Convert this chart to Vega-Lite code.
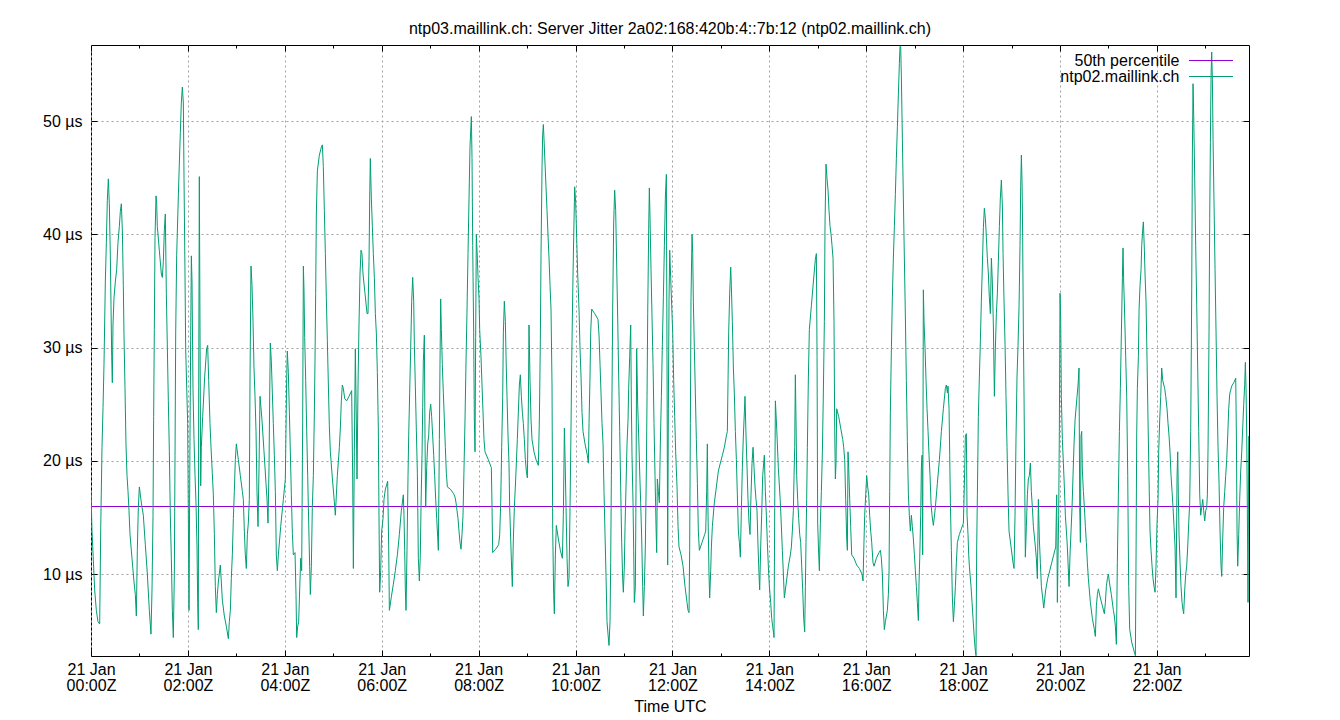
{
"$schema": "https://vega.github.io/schema/vega-lite/v6.json",
"width": 1158, "height": 611,
"autosize": "none",
"padding": {"left": 91, "top": 45, "right": 91, "bottom": 64},
"background": "white",
"title": {"text": "ntp03.maillink.ch: Server Jitter 2a02:168:420b:4::7b:12 (ntp02.maillink.ch)", "font": "Liberation Sans", "fontSize": 16, "fontWeight": "normal", "color": "black", "anchor": "middle", "offset": 8},
"config": {"view": {"stroke": "black", "strokeWidth": 1}, "font": "Liberation Sans"},
"datasets": {
"p50": [{"v": 15.97}],
"jitter": [
{"h":0.000,"v":17.3},{"h":0.021,"v":13.8},{"h":0.076,"v":8.6},{"h":0.110,"v":6.8},{"h":0.144,"v":5.8},{"h":0.179,"v":5.6},{"h":0.200,"v":13.8},{"h":0.227,"v":21.2},{"h":0.248,"v":24.7},{"h":0.268,"v":28.5},{"h":0.296,"v":35.8},{"h":0.317,"v":39.3},{"h":0.337,"v":43.0},{"h":0.358,"v":44.9},{"h":0.378,"v":42.7},{"h":0.399,"v":38.1},{"h":0.413,"v":33.7},{"h":0.427,"v":29.2},{"h":0.440,"v":26.9},{"h":0.454,"v":32.0},{"h":0.475,"v":34.4},{"h":0.502,"v":35.8},{"h":0.530,"v":36.9},{"h":0.557,"v":39.3},{"h":0.585,"v":40.7},{"h":0.605,"v":42.0},{"h":0.626,"v":42.7},{"h":0.647,"v":40.4},{"h":0.667,"v":35.5},{"h":0.681,"v":31.1},{"h":0.702,"v":26.4},{"h":0.722,"v":21.5},{"h":0.743,"v":18.7},{"h":0.764,"v":17.3},{"h":0.784,"v":15.6},{"h":0.805,"v":13.5},{"h":0.846,"v":11.4},{"h":0.888,"v":9.3},{"h":0.915,"v":8.2},{"h":0.936,"v":6.3},{"h":0.956,"v":12.1},{"h":0.977,"v":15.9},{"h":0.998,"v":17.7},{"h":1.039,"v":16.3},{"h":1.080,"v":15.2},{"h":1.121,"v":12.6},{"h":1.163,"v":10.0},{"h":1.204,"v":6.8},{"h":1.238,"v":4.7},{"h":1.259,"v":8.6},{"h":1.280,"v":15.2},{"h":1.293,"v":23.9},{"h":1.307,"v":31.6},{"h":1.321,"v":39.7},{"h":1.342,"v":43.4},{"h":1.355,"v":42.8},{"h":1.369,"v":40.7},{"h":1.410,"v":38.6},{"h":1.452,"v":36.5},{"h":1.472,"v":36.2},{"h":1.493,"v":37.6},{"h":1.514,"v":40.4},{"h":1.534,"v":41.8},{"h":1.555,"v":34.8},{"h":1.576,"v":29.9},{"h":1.596,"v":25.3},{"h":1.617,"v":20.8},{"h":1.637,"v":15.2},{"h":1.658,"v":11.4},{"h":1.679,"v":6.8},{"h":1.699,"v":4.4},{"h":1.720,"v":10.0},{"h":1.734,"v":20.5},{"h":1.748,"v":31.3},{"h":1.768,"v":38.1},{"h":1.803,"v":43.4},{"h":1.823,"v":46.2},{"h":1.844,"v":49.0},{"h":1.864,"v":51.6},{"h":1.885,"v":53.0},{"h":1.906,"v":51.6},{"h":1.920,"v":44.9},{"h":1.940,"v":36.5},{"h":1.954,"v":29.9},
{"h":1.995,"v":23.3},{"h":2.009,"v":15.2},{"h":2.023,"v":6.8},{"h":2.043,"v":22.2},{"h":2.057,"v":30.6},{"h":2.071,"v":38.1},{"h":2.085,"v":35.8},{"h":2.105,"v":26.4},{"h":2.126,"v":21.9},{"h":2.147,"v":18.7},{"h":2.167,"v":16.3},{"h":2.188,"v":12.4},{"h":2.202,"v":7.5},{"h":2.215,"v":5.1},{"h":2.222,"v":25.0},{"h":2.236,"v":45.1},{"h":2.250,"v":31.3},{"h":2.264,"v":17.8},{"h":2.277,"v":21.2},{"h":2.305,"v":23.9},{"h":2.346,"v":27.4},{"h":2.387,"v":29.9},{"h":2.408,"v":30.2},{"h":2.429,"v":27.1},{"h":2.456,"v":23.3},{"h":2.477,"v":21.2},{"h":2.504,"v":18.9},{"h":2.525,"v":17.0},{"h":2.546,"v":13.6},{"h":2.566,"v":8.9},{"h":2.587,"v":6.6},{"h":2.608,"v":8.2},{"h":2.628,"v":9.3},{"h":2.669,"v":10.8},{"h":2.690,"v":9.3},{"h":2.711,"v":7.7},{"h":2.752,"v":6.3},{"h":2.793,"v":5.4},{"h":2.835,"v":4.3},{"h":2.855,"v":5.8},{"h":2.876,"v":6.8},{"h":2.896,"v":9.6},{"h":2.917,"v":11.7},{"h":2.938,"v":14.9},{"h":2.958,"v":17.3},{"h":2.979,"v":20.1},{"h":3.000,"v":21.5},{"h":3.041,"v":20.1},{"h":3.082,"v":18.7},{"h":3.124,"v":17.3},{"h":3.144,"v":16.6},{"h":3.165,"v":13.8},{"h":3.185,"v":11.7},{"h":3.206,"v":10.5},{"h":3.227,"v":13.5},{"h":3.247,"v":14.5},{"h":3.268,"v":16.6},{"h":3.282,"v":27.4},{"h":3.302,"v":37.2},{"h":3.323,"v":35.5},{"h":3.344,"v":32.3},{"h":3.364,"v":28.2},{"h":3.385,"v":25.7},{"h":3.406,"v":22.6},{"h":3.426,"v":17.3},{"h":3.447,"v":14.2},{"h":3.468,"v":19.4},{"h":3.488,"v":25.7},{"h":3.529,"v":23.6},{"h":3.571,"v":20.8},{"h":3.612,"v":18.0},{"h":3.633,"v":16.6},{"h":3.653,"v":14.5},{"h":3.674,"v":19.4},{"h":3.688,"v":25.7},{"h":3.701,"v":30.4},{"h":3.722,"v":28.8},{"h":3.743,"v":26.0},{"h":3.763,"v":23.3},{"h":3.784,"v":20.5},{"h":3.805,"v":17.3},{"h":3.825,"v":11.7},{"h":3.846,"v":10.3},{"h":3.867,"v":11.7},{"h":3.915,"v":14.2},{"h":3.970,"v":16.6},
{"h":4.011,"v":18.4},{"h":4.025,"v":22.9},{"h":4.039,"v":27.4},{"h":4.052,"v":29.7},{"h":4.073,"v":27.8},{"h":4.094,"v":24.3},{"h":4.114,"v":20.8},{"h":4.135,"v":17.0},{"h":4.156,"v":13.6},{"h":4.176,"v":11.7},{"h":4.211,"v":11.9},{"h":4.231,"v":8.2},{"h":4.245,"v":4.4},{"h":4.266,"v":5.4},{"h":4.286,"v":5.8},{"h":4.307,"v":8.6},{"h":4.328,"v":11.4},{"h":4.348,"v":10.3},{"h":4.369,"v":23.6},{"h":4.383,"v":37.2},{"h":4.396,"v":35.1},{"h":4.410,"v":30.9},{"h":4.431,"v":27.1},{"h":4.451,"v":22.9},{"h":4.472,"v":18.7},{"h":4.493,"v":14.5},{"h":4.513,"v":10.7},{"h":4.527,"v":8.2},{"h":4.548,"v":10.7},{"h":4.568,"v":15.9},{"h":4.589,"v":18.7},{"h":4.610,"v":24.3},{"h":4.623,"v":28.8},{"h":4.637,"v":34.8},{"h":4.651,"v":41.8},{"h":4.672,"v":45.6},{"h":4.713,"v":47.0},{"h":4.754,"v":47.7},{"h":4.775,"v":47.9},{"h":4.795,"v":46.0},{"h":4.816,"v":42.1},{"h":4.837,"v":38.3},{"h":4.857,"v":34.4},{"h":4.878,"v":30.6},{"h":4.899,"v":26.7},{"h":4.919,"v":23.1},{"h":4.940,"v":20.8},{"h":4.981,"v":18.5},{"h":5.022,"v":16.4},{"h":5.043,"v":15.2},{"h":5.064,"v":17.0},{"h":5.084,"v":18.7},{"h":5.126,"v":21.2},{"h":5.146,"v":22.9},{"h":5.167,"v":25.3},{"h":5.187,"v":26.7},{"h":5.208,"v":26.4},{"h":5.236,"v":25.5},{"h":5.277,"v":25.3},{"h":5.325,"v":25.7},{"h":5.380,"v":26.2},{"h":5.401,"v":18.4},{"h":5.415,"v":10.5},{"h":5.435,"v":20.8},{"h":5.456,"v":29.9},{"h":5.476,"v":23.6},{"h":5.490,"v":18.4},{"h":5.511,"v":26.7},{"h":5.531,"v":32.0},{"h":5.552,"v":36.5},{"h":5.573,"v":38.6},{"h":5.593,"v":38.3},{"h":5.614,"v":36.5},{"h":5.655,"v":34.8},{"h":5.697,"v":33.0},{"h":5.717,"v":33.0},{"h":5.738,"v":37.6},{"h":5.752,"v":43.2},{"h":5.765,"v":46.7},{"h":5.786,"v":43.2},{"h":5.807,"v":40.7},{"h":5.827,"v":38.3},{"h":5.848,"v":36.2},{"h":5.869,"v":33.0},{"h":5.889,"v":31.3},{"h":5.910,"v":27.8},{"h":5.930,"v":22.9},{"h":5.944,"v":15.2},{"h":5.958,"v":8.4},{"h":5.979,"v":10.3},{"h":5.999,"v":13.8},
{"h":6.027,"v":14.9},{"h":6.047,"v":16.6},{"h":6.075,"v":17.5},{"h":6.123,"v":18.2},{"h":6.144,"v":12.4},{"h":6.158,"v":6.8},{"h":6.199,"v":8.0},{"h":6.240,"v":9.1},{"h":6.281,"v":10.3},{"h":6.323,"v":11.7},{"h":6.364,"v":13.5},{"h":6.405,"v":15.6},{"h":6.446,"v":17.0},{"h":6.460,"v":15.2},{"h":6.474,"v":12.1},{"h":6.488,"v":8.6},{"h":6.502,"v":6.8},{"h":6.522,"v":12.1},{"h":6.543,"v":18.7},{"h":6.557,"v":22.2},{"h":6.577,"v":26.0},{"h":6.598,"v":29.9},{"h":6.619,"v":34.1},{"h":6.639,"v":36.2},{"h":6.660,"v":34.1},{"h":6.674,"v":30.2},{"h":6.694,"v":26.6},{"h":6.715,"v":22.7},{"h":6.736,"v":18.9},{"h":6.756,"v":11.4},{"h":6.777,"v":9.4},{"h":6.797,"v":11.7},{"h":6.811,"v":15.9},{"h":6.832,"v":20.5},{"h":6.846,"v":24.7},{"h":6.859,"v":28.8},{"h":6.880,"v":31.1},{"h":6.894,"v":21.9},{"h":6.907,"v":15.9},{"h":6.928,"v":19.4},{"h":6.949,"v":21.5},{"h":6.969,"v":22.2},{"h":6.990,"v":24.3},{"h":7.011,"v":25.0},{"h":7.031,"v":23.9},{"h":7.052,"v":22.2},{"h":7.073,"v":20.5},{"h":7.093,"v":18.7},{"h":7.114,"v":16.6},{"h":7.135,"v":14.9},{"h":7.155,"v":13.3},{"h":7.169,"v":12.1},{"h":7.190,"v":21.9},{"h":7.203,"v":28.5},{"h":7.217,"v":34.3},{"h":7.231,"v":31.6},{"h":7.251,"v":28.5},{"h":7.272,"v":26.0},{"h":7.293,"v":23.6},{"h":7.313,"v":21.2},{"h":7.334,"v":18.9},{"h":7.355,"v":17.7},{"h":7.417,"v":17.5},{"h":7.485,"v":17.1},{"h":7.513,"v":16.8},{"h":7.534,"v":16.3},{"h":7.554,"v":15.6},{"h":7.575,"v":14.9},{"h":7.595,"v":13.8},{"h":7.616,"v":12.8},{"h":7.637,"v":12.2},{"h":7.657,"v":13.5},{"h":7.678,"v":15.2},{"h":7.699,"v":19.4},{"h":7.719,"v":23.6},{"h":7.740,"v":28.8},{"h":7.761,"v":33.4},{"h":7.781,"v":38.3},{"h":7.802,"v":43.2},{"h":7.822,"v":47.7},{"h":7.850,"v":50.4},{"h":7.864,"v":46.7},{"h":7.878,"v":39.0},{"h":7.898,"v":31.3},{"h":7.912,"v":23.6},{"h":7.926,"v":20.8},{"h":7.939,"v":30.9},{"h":7.953,"v":40.0},{"h":7.974,"v":37.9},{"h":7.988,"v":36.2},{"h":8.008,"v":34.4},{"h":8.022,"v":31.6},
{"h":8.049,"v":29.2},{"h":8.070,"v":26.7},{"h":8.091,"v":24.3},{"h":8.111,"v":21.9},{"h":8.132,"v":20.8},{"h":8.201,"v":20.1},{"h":8.263,"v":19.4},{"h":8.277,"v":15.9},{"h":8.290,"v":11.9},{"h":8.352,"v":12.2},{"h":8.414,"v":12.6},{"h":8.435,"v":13.5},{"h":8.456,"v":16.3},{"h":8.476,"v":21.2},{"h":8.497,"v":25.7},{"h":8.511,"v":31.3},{"h":8.531,"v":34.1},{"h":8.552,"v":32.3},{"h":8.566,"v":29.2},{"h":8.586,"v":25.7},{"h":8.607,"v":22.2},{"h":8.627,"v":19.8},{"h":8.641,"v":15.9},{"h":8.662,"v":13.1},{"h":8.683,"v":10.3},{"h":8.696,"v":8.9},{"h":8.717,"v":13.1},{"h":8.738,"v":15.9},{"h":8.758,"v":17.7},{"h":8.779,"v":19.8},{"h":8.799,"v":21.9},{"h":8.820,"v":24.3},{"h":8.841,"v":26.7},{"h":8.861,"v":27.6},{"h":8.882,"v":25.7},{"h":8.903,"v":24.3},{"h":8.923,"v":23.3},{"h":8.944,"v":21.9},{"h":8.965,"v":20.1},{"h":8.985,"v":19.1},{"h":9.006,"v":18.5},{"h":9.027,"v":25.0},{"h":9.040,"v":32.0},{"h":9.061,"v":27.1},{"h":9.082,"v":23.6},{"h":9.102,"v":21.9},{"h":9.143,"v":20.8},{"h":9.185,"v":20.1},{"h":9.233,"v":19.6},{"h":9.254,"v":23.6},{"h":9.274,"v":30.6},{"h":9.288,"v":38.3},{"h":9.309,"v":46.0},{"h":9.322,"v":48.8},{"h":9.336,"v":49.7},{"h":9.350,"v":48.4},{"h":9.370,"v":46.3},{"h":9.391,"v":44.2},{"h":9.412,"v":42.1},{"h":9.432,"v":40.0},{"h":9.453,"v":37.9},{"h":9.474,"v":35.5},{"h":9.494,"v":33.4},{"h":9.515,"v":26.7},{"h":9.529,"v":14.0},{"h":9.549,"v":8.2},{"h":9.563,"v":6.5},{"h":9.584,"v":11.7},{"h":9.604,"v":14.3},{"h":9.646,"v":13.1},{"h":9.687,"v":12.1},{"h":9.728,"v":11.4},{"h":9.749,"v":15.2},{"h":9.770,"v":22.9},{"h":9.783,"v":20.5},{"h":9.804,"v":15.9},{"h":9.825,"v":11.4},{"h":9.845,"v":8.9},{"h":9.866,"v":9.6},{"h":9.887,"v":15.9},{"h":9.907,"v":22.9},{"h":9.921,"v":28.5},{"h":9.942,"v":34.8},{"h":9.962,"v":39.7},{"h":9.983,"v":44.2},{"h":10.003,"v":42.8},{"h":10.024,"v":39.7},{"h":10.045,"v":36.5},
{"h":10.072,"v":33.4},{"h":10.093,"v":29.9},{"h":10.114,"v":27.4},{"h":10.134,"v":24.3},{"h":10.155,"v":22.6},{"h":10.196,"v":21.5},{"h":10.244,"v":20.5},{"h":10.265,"v":19.8},{"h":10.279,"v":23.3},{"h":10.299,"v":27.4},{"h":10.313,"v":31.3},{"h":10.334,"v":33.4},{"h":10.396,"v":33.0},{"h":10.464,"v":32.5},{"h":10.485,"v":31.1},{"h":10.506,"v":28.5},{"h":10.526,"v":26.0},{"h":10.547,"v":23.3},{"h":10.568,"v":21.5},{"h":10.588,"v":17.3},{"h":10.609,"v":13.5},{"h":10.630,"v":9.8},{"h":10.650,"v":5.8},{"h":10.671,"v":4.7},{"h":10.691,"v":3.7},{"h":10.712,"v":5.8},{"h":10.726,"v":11.0},{"h":10.740,"v":18.7},{"h":10.753,"v":26.0},{"h":10.767,"v":33.4},{"h":10.788,"v":41.1},{"h":10.808,"v":43.9},{"h":10.829,"v":42.1},{"h":10.850,"v":37.2},{"h":10.870,"v":32.7},{"h":10.891,"v":27.4},{"h":10.912,"v":22.6},{"h":10.932,"v":17.7},{"h":10.953,"v":12.8},{"h":10.973,"v":9.6},{"h":10.987,"v":8.4},{"h":11.008,"v":10.7},{"h":11.022,"v":14.2},{"h":11.042,"v":17.7},{"h":11.063,"v":21.5},{"h":11.084,"v":23.6},{"h":11.097,"v":26.4},{"h":11.118,"v":29.2},{"h":11.139,"v":32.0},{"h":11.152,"v":25.2},{"h":11.166,"v":20.5},{"h":11.187,"v":16.3},{"h":11.201,"v":12.1},{"h":11.214,"v":7.5},{"h":11.235,"v":8.9},{"h":11.249,"v":18.0},{"h":11.262,"v":29.9},{"h":11.283,"v":25.0},{"h":11.304,"v":22.2},{"h":11.324,"v":19.1},{"h":11.345,"v":16.3},{"h":11.366,"v":13.1},{"h":11.386,"v":8.9},{"h":11.400,"v":6.3},{"h":11.421,"v":8.9},{"h":11.441,"v":12.4},{"h":11.462,"v":19.1},{"h":11.476,"v":25.7},{"h":11.490,"v":33.0},{"h":11.510,"v":40.4},{"h":11.524,"v":44.1},{"h":11.538,"v":41.4},{"h":11.558,"v":36.9},{"h":11.579,"v":32.7},{"h":11.600,"v":28.5},{"h":11.620,"v":23.3},{"h":11.641,"v":18.7},{"h":11.662,"v":14.2},{"h":11.675,"v":11.9},{"h":11.689,"v":18.4},{"h":11.710,"v":17.3},{"h":11.730,"v":16.3},{"h":11.751,"v":21.5},{"h":11.772,"v":25.7},{"h":11.792,"v":30.3},{"h":11.813,"v":34.4},{"h":11.834,"v":39.0},{"h":11.854,"v":43.2},{"h":11.875,"v":45.3},{"h":11.889,"v":28.2},{"h":11.902,"v":10.8},{"h":11.916,"v":24.6},{"h":11.930,"v":34.1},{"h":11.944,"v":38.6},{"h":11.964,"v":36.2},{"h":11.985,"v":33.7},{"h":12.006,"v":31.3},{"h":12.026,"v":27.1},{"h":12.047,"v":23.9},{"h":12.067,"v":20.8},
{"h":12.095,"v":17.7},{"h":12.116,"v":14.2},{"h":12.136,"v":12.4},{"h":12.178,"v":11.7},{"h":12.219,"v":10.7},{"h":12.260,"v":8.9},{"h":12.301,"v":7.5},{"h":12.322,"v":6.8},{"h":12.343,"v":6.6},{"h":12.356,"v":12.1},{"h":12.370,"v":23.3},{"h":12.384,"v":34.4},{"h":12.405,"v":40.0},{"h":12.419,"v":38.3},{"h":12.432,"v":34.1},{"h":12.453,"v":29.9},{"h":12.473,"v":26.0},{"h":12.494,"v":21.9},{"h":12.515,"v":18.0},{"h":12.535,"v":13.8},{"h":12.556,"v":12.1},{"h":12.611,"v":12.8},{"h":12.666,"v":13.5},{"h":12.687,"v":13.8},{"h":12.707,"v":17.3},{"h":12.721,"v":21.5},{"h":12.735,"v":15.2},{"h":12.755,"v":10.0},{"h":12.769,"v":7.9},{"h":12.790,"v":10.3},{"h":12.804,"v":12.4},{"h":12.824,"v":14.2},{"h":12.865,"v":16.3},{"h":12.907,"v":17.7},{"h":12.948,"v":19.1},{"h":12.989,"v":19.8},{"h":13.031,"v":20.5},{"h":13.072,"v":21.2},{"h":13.113,"v":22.2},{"h":13.134,"v":22.6},{"h":13.148,"v":27.1},{"h":13.161,"v":31.3},{"h":13.182,"v":34.8},{"h":13.203,"v":37.1},{"h":13.216,"v":35.5},{"h":13.237,"v":32.3},{"h":13.258,"v":28.2},{"h":13.278,"v":25.9},{"h":13.299,"v":22.6},{"h":13.320,"v":20.1},{"h":13.340,"v":17.0},{"h":13.361,"v":13.8},{"h":13.382,"v":12.8},{"h":13.402,"v":11.5},{"h":13.423,"v":15.6},{"h":13.443,"v":19.4},{"h":13.464,"v":22.2},{"h":13.485,"v":24.3},{"h":13.498,"v":25.7},{"h":13.519,"v":22.2},{"h":13.540,"v":19.4},{"h":13.560,"v":16.6},{"h":13.581,"v":14.5},{"h":13.602,"v":13.5},{"h":13.622,"v":17.0},{"h":13.643,"v":19.8},{"h":13.664,"v":21.2},{"h":13.684,"v":19.4},{"h":13.705,"v":17.7},{"h":13.725,"v":16.6},{"h":13.746,"v":15.6},{"h":13.767,"v":12.4},{"h":13.787,"v":10.0},{"h":13.801,"v":8.6},{"h":13.822,"v":12.4},{"h":13.842,"v":15.2},{"h":13.863,"v":18.7},{"h":13.897,"v":20.5},{"h":13.918,"v":17.3},{"h":13.939,"v":15.2},{"h":13.959,"v":12.8},{"h":13.980,"v":10.7},{"h":14.001,"v":8.9},{"h":14.028,"v":7.5},{"h":14.049,"v":6.1},{"h":14.069,"v":5.4},{"h":14.090,"v":4.7},
{"h":14.097,"v":4.4},{"h":14.111,"v":15.9},{"h":14.125,"v":25.3},{"h":14.152,"v":22.9},{"h":14.186,"v":19.4},{"h":14.228,"v":16.3},{"h":14.269,"v":12.1},{"h":14.290,"v":10.0},{"h":14.310,"v":7.9},{"h":14.352,"v":9.3},{"h":14.393,"v":10.7},{"h":14.434,"v":11.7},{"h":14.455,"v":12.4},{"h":14.475,"v":13.8},{"h":14.496,"v":15.6},{"h":14.510,"v":18.7},{"h":14.524,"v":21.2},{"h":14.537,"v":27.6},{"h":14.551,"v":23.6},{"h":14.565,"v":18.7},{"h":14.585,"v":16.6},{"h":14.606,"v":14.9},{"h":14.627,"v":13.5},{"h":14.647,"v":12.8},{"h":14.668,"v":10.7},{"h":14.689,"v":8.6},{"h":14.709,"v":6.1},{"h":14.730,"v":4.9},{"h":14.744,"v":8.9},{"h":14.757,"v":12.8},{"h":14.771,"v":16.6},{"h":14.785,"v":21.2},{"h":14.806,"v":27.4},{"h":14.826,"v":31.6},{"h":14.868,"v":33.7},{"h":14.909,"v":35.8},{"h":14.950,"v":37.8},{"h":14.971,"v":38.3},{"h":14.985,"v":29.2},{"h":14.998,"v":14.5},{"h":15.019,"v":11.7},{"h":15.033,"v":10.3},{"h":15.053,"v":14.5},{"h":15.074,"v":17.3},{"h":15.095,"v":20.8},{"h":15.115,"v":26.0},{"h":15.136,"v":32.3},{"h":15.150,"v":41.1},{"h":15.170,"v":46.2},{"h":15.191,"v":44.9},{"h":15.212,"v":43.9},{"h":15.232,"v":42.1},{"h":15.253,"v":40.7},{"h":15.274,"v":40.0},{"h":15.294,"v":39.0},{"h":15.315,"v":37.9},{"h":15.335,"v":32.3},{"h":15.349,"v":22.9},{"h":15.363,"v":18.4},{"h":15.377,"v":19.8},{"h":15.390,"v":24.6},{"h":15.432,"v":23.9},{"h":15.473,"v":22.9},{"h":15.515,"v":21.9},{"h":15.535,"v":21.2},{"h":15.556,"v":20.1},{"h":15.576,"v":16.6},{"h":15.597,"v":13.1},{"h":15.611,"v":12.1},{"h":15.624,"v":20.8},{"h":15.638,"v":19.4},{"h":15.659,"v":16.6},{"h":15.679,"v":14.2},{"h":15.700,"v":11.7},{"h":15.748,"v":11.4},{"h":15.803,"v":10.8},{"h":15.858,"v":10.5},{"h":15.913,"v":10.0},{"h":15.934,"v":9.4},{"h":15.955,"v":13.1},{"h":15.968,"v":15.2},{"h":15.989,"v":17.0},{"h":16.010,"v":18.7},{"h":16.030,"v":17.7},{"h":16.051,"v":17.0},{"h":16.071,"v":15.2},{"h":16.092,"v":13.8},{"h":16.113,"v":12.8},
{"h":16.140,"v":11.0},{"h":16.161,"v":10.7},{"h":16.209,"v":11.4},{"h":16.264,"v":11.9},{"h":16.292,"v":12.1},{"h":16.312,"v":11.4},{"h":16.333,"v":10.0},{"h":16.354,"v":6.8},{"h":16.374,"v":5.1},{"h":16.395,"v":5.8},{"h":16.436,"v":6.8},{"h":16.457,"v":8.2},{"h":16.471,"v":10.3},{"h":16.484,"v":17.3},{"h":16.498,"v":24.3},{"h":16.519,"v":29.9},{"h":16.539,"v":34.4},{"h":16.560,"v":37.9},{"h":16.581,"v":40.7},{"h":16.601,"v":43.5},{"h":16.622,"v":46.7},{"h":16.643,"v":49.5},{"h":16.663,"v":52.3},{"h":16.684,"v":55.1},{"h":16.698,"v":56.6},{"h":16.711,"v":56.6},{"h":16.725,"v":54.0},{"h":16.746,"v":48.4},{"h":16.766,"v":43.2},{"h":16.787,"v":37.9},{"h":16.808,"v":32.7},{"h":16.828,"v":27.1},{"h":16.849,"v":21.7},{"h":16.870,"v":17.0},{"h":16.890,"v":15.2},{"h":16.911,"v":13.8},{"h":16.932,"v":15.2},{"h":16.952,"v":14.2},{"h":16.973,"v":13.1},{"h":16.994,"v":11.7},{"h":17.014,"v":10.3},{"h":17.035,"v":8.9},{"h":17.055,"v":7.5},{"h":17.076,"v":5.9},{"h":17.090,"v":9.3},{"h":17.104,"v":11.4},{"h":17.124,"v":15.2},{"h":17.138,"v":19.4},{"h":17.152,"v":20.5},{"h":17.165,"v":11.7},{"h":17.179,"v":35.1},{"h":17.193,"v":32.3},{"h":17.214,"v":29.9},{"h":17.234,"v":27.1},{"h":17.255,"v":24.6},{"h":17.276,"v":22.6},{"h":17.296,"v":20.5},{"h":17.317,"v":18.7},{"h":17.337,"v":16.3},{"h":17.358,"v":15.2},{"h":17.386,"v":14.3},{"h":17.427,"v":15.9},{"h":17.468,"v":18.0},{"h":17.510,"v":20.1},{"h":17.551,"v":22.6},{"h":17.592,"v":24.6},{"h":17.633,"v":26.4},{"h":17.654,"v":26.7},{"h":17.675,"v":26.0},{"h":17.688,"v":26.6},{"h":17.709,"v":24.6},{"h":17.723,"v":20.5},{"h":17.737,"v":16.3},{"h":17.757,"v":12.1},{"h":17.778,"v":7.9},{"h":17.799,"v":5.8},{"h":17.819,"v":7.2},{"h":17.840,"v":8.9},{"h":17.860,"v":11.0},{"h":17.881,"v":12.8},{"h":17.922,"v":13.5},{"h":17.964,"v":14.0},{"h":18.005,"v":14.5},{"h":18.025,"v":17.8},{"h":18.046,"v":22.2},{"h":18.067,"v":22.4},{"h":18.081,"v":15.2},{"h":18.101,"v":13.5},{"h":18.115,"v":11.7},{"h":18.129,"v":10.7},
{"h":18.163,"v":8.9},{"h":18.184,"v":7.5},{"h":18.204,"v":6.1},{"h":18.225,"v":4.7},{"h":18.246,"v":3.5},{"h":18.266,"v":2.8},{"h":18.280,"v":12.4},{"h":18.294,"v":17.0},{"h":18.314,"v":23.9},{"h":18.335,"v":27.4},{"h":18.356,"v":30.6},{"h":18.376,"v":34.1},{"h":18.397,"v":37.2},{"h":18.418,"v":40.6},{"h":18.438,"v":42.3},{"h":18.459,"v":41.4},{"h":18.480,"v":39.7},{"h":18.500,"v":37.9},{"h":18.521,"v":36.5},{"h":18.541,"v":34.4},{"h":18.562,"v":33.0},{"h":18.583,"v":37.9},{"h":18.603,"v":35.8},{"h":18.624,"v":32.0},{"h":18.645,"v":25.7},{"h":18.665,"v":29.9},{"h":18.686,"v":33.0},{"h":18.707,"v":34.8},{"h":18.727,"v":37.6},{"h":18.748,"v":40.7},{"h":18.768,"v":43.2},{"h":18.789,"v":44.8},{"h":18.810,"v":42.5},{"h":18.824,"v":38.3},{"h":18.844,"v":34.1},{"h":18.865,"v":30.3},{"h":18.885,"v":25.7},{"h":18.906,"v":21.2},{"h":18.927,"v":17.0},{"h":18.947,"v":13.8},{"h":18.989,"v":12.4},{"h":19.030,"v":11.0},{"h":19.051,"v":10.5},{"h":19.071,"v":15.2},{"h":19.092,"v":22.2},{"h":19.112,"v":27.4},{"h":19.133,"v":30.2},{"h":19.154,"v":33.7},{"h":19.174,"v":39.0},{"h":19.188,"v":44.2},{"h":19.202,"v":47.0},{"h":19.216,"v":44.6},{"h":19.229,"v":39.7},{"h":19.243,"v":31.3},{"h":19.257,"v":25.7},{"h":19.271,"v":18.4},{"h":19.284,"v":11.5},{"h":19.305,"v":14.2},{"h":19.326,"v":17.0},{"h":19.346,"v":18.4},{"h":19.367,"v":18.7},{"h":19.388,"v":19.8},{"h":19.408,"v":17.3},{"h":19.429,"v":15.9},{"h":19.450,"v":14.2},{"h":19.491,"v":12.4},{"h":19.511,"v":11.4},{"h":19.532,"v":9.6},{"h":19.553,"v":16.6},{"h":19.573,"v":13.1},{"h":19.594,"v":11.0},{"h":19.615,"v":8.9},{"h":19.642,"v":7.9},{"h":19.663,"v":7.0},{"h":19.704,"v":8.6},{"h":19.745,"v":9.6},{"h":19.787,"v":10.3},{"h":19.828,"v":11.0},{"h":19.869,"v":11.7},{"h":19.911,"v":12.4},{"h":19.931,"v":17.0},{"h":19.945,"v":7.5},{"h":19.959,"v":11.7},{"h":19.972,"v":15.2},{"h":19.986,"v":22.6},{"h":20.000,"v":34.8},{"h":20.014,"v":32.3},{"h":20.027,"v":25.7},{"h":20.048,"v":21.9},{"h":20.069,"v":19.8},{"h":20.089,"v":17.7},{"h":20.110,"v":15.2},{"h":20.131,"v":13.8},{"h":20.151,"v":12.4},
{"h":20.165,"v":11.0},{"h":20.186,"v":8.9},{"h":20.206,"v":11.7},{"h":20.227,"v":13.8},{"h":20.248,"v":15.9},{"h":20.268,"v":18.7},{"h":20.289,"v":21.5},{"h":20.310,"v":23.6},{"h":20.351,"v":25.7},{"h":20.372,"v":26.7},{"h":20.392,"v":28.2},{"h":20.406,"v":15.9},{"h":20.420,"v":12.8},{"h":20.433,"v":22.2},{"h":20.447,"v":22.6},{"h":20.461,"v":19.1},{"h":20.482,"v":17.3},{"h":20.502,"v":15.9},{"h":20.523,"v":14.2},{"h":20.543,"v":12.8},{"h":20.564,"v":11.0},{"h":20.585,"v":9.6},{"h":20.626,"v":7.5},{"h":20.667,"v":6.1},{"h":20.709,"v":5.1},{"h":20.729,"v":4.5},{"h":20.750,"v":7.2},{"h":20.771,"v":8.2},{"h":20.791,"v":8.7},{"h":20.832,"v":7.9},{"h":20.874,"v":7.2},{"h":20.915,"v":6.5},{"h":20.936,"v":7.5},{"h":20.956,"v":8.9},{"h":20.977,"v":9.6},{"h":20.998,"v":10.0},{"h":21.018,"v":9.3},{"h":21.059,"v":8.2},{"h":21.101,"v":6.8},{"h":21.121,"v":6.3},{"h":21.142,"v":5.4},{"h":21.163,"v":3.8},{"h":21.183,"v":11.0},{"h":21.204,"v":17.0},{"h":21.225,"v":22.6},{"h":21.245,"v":26.4},{"h":21.266,"v":31.3},{"h":21.287,"v":36.2},{"h":21.300,"v":38.8},{"h":21.314,"v":35.8},{"h":21.335,"v":32.7},{"h":21.355,"v":29.2},{"h":21.376,"v":25.7},{"h":21.397,"v":18.7},{"h":21.417,"v":8.9},{"h":21.438,"v":5.1},{"h":21.479,"v":4.0},{"h":21.521,"v":3.3},{"h":21.555,"v":2.8},{"h":21.569,"v":11.7},{"h":21.582,"v":22.2},{"h":21.596,"v":26.4},{"h":21.617,"v":29.2},{"h":21.631,"v":33.4},{"h":21.651,"v":35.5},{"h":21.672,"v":36.9},{"h":21.686,"v":39.0},{"h":21.706,"v":40.4},{"h":21.720,"v":41.1},{"h":21.741,"v":38.6},{"h":21.754,"v":36.5},{"h":21.775,"v":34.1},{"h":21.796,"v":28.8},{"h":21.816,"v":23.6},{"h":21.837,"v":18.4},{"h":21.857,"v":13.8},{"h":21.878,"v":12.1},{"h":21.899,"v":10.7},{"h":21.919,"v":9.6},{"h":21.940,"v":8.9},{"h":21.961,"v":8.4},{"h":21.981,"v":10.7},{"h":22.002,"v":14.5},{"h":22.023,"v":16.6},{"h":22.036,"v":20.8},{"h":22.057,"v":23.6},{"h":22.078,"v":25.7},{"h":22.098,"v":28.2},{"h":22.119,"v":27.1},{"h":22.160,"v":26.4},{"h":22.181,"v":25.7},
{"h":22.208,"v":24.6},{"h":22.229,"v":23.3},{"h":22.250,"v":22.2},{"h":22.270,"v":20.8},{"h":22.291,"v":18.7},{"h":22.312,"v":17.3},{"h":22.332,"v":15.9},{"h":22.353,"v":14.2},{"h":22.374,"v":12.4},{"h":22.394,"v":7.9},{"h":22.415,"v":18.7},{"h":22.429,"v":20.8},{"h":22.442,"v":17.0},{"h":22.456,"v":13.5},{"h":22.477,"v":11.0},{"h":22.497,"v":8.9},{"h":22.518,"v":7.5},{"h":22.539,"v":6.8},{"h":22.552,"v":6.5},{"h":22.573,"v":8.6},{"h":22.594,"v":10.0},{"h":22.614,"v":10.7},{"h":22.635,"v":12.4},{"h":22.656,"v":14.5},{"h":22.676,"v":16.3},{"h":22.697,"v":22.6},{"h":22.718,"v":35.1},{"h":22.731,"v":47.0},{"h":22.745,"v":53.3},{"h":22.759,"v":50.5},{"h":22.780,"v":44.9},{"h":22.800,"v":39.0},{"h":22.821,"v":33.7},{"h":22.841,"v":28.2},{"h":22.862,"v":22.6},{"h":22.883,"v":17.0},{"h":22.903,"v":15.2},{"h":22.924,"v":15.9},{"h":22.945,"v":16.6},{"h":22.965,"v":15.6},{"h":22.986,"v":14.7},{"h":23.007,"v":15.6},{"h":23.027,"v":15.9},{"h":23.041,"v":17.0},{"h":23.055,"v":21.2},{"h":23.075,"v":31.3},{"h":23.089,"v":41.4},{"h":23.103,"v":48.1},{"h":23.117,"v":54.0},{"h":23.130,"v":56.1},{"h":23.144,"v":53.7},{"h":23.158,"v":48.4},{"h":23.179,"v":42.5},{"h":23.199,"v":36.9},{"h":23.220,"v":31.3},{"h":23.240,"v":25.7},{"h":23.261,"v":21.2},{"h":23.282,"v":18.0},{"h":23.302,"v":13.8},{"h":23.323,"v":10.7},{"h":23.337,"v":9.8},{"h":23.357,"v":13.1},{"h":23.378,"v":15.9},{"h":23.399,"v":17.3},{"h":23.419,"v":18.7},{"h":23.440,"v":20.1},{"h":23.461,"v":22.2},{"h":23.481,"v":24.6},{"h":23.502,"v":25.9},{"h":23.543,"v":26.6},{"h":23.585,"v":26.9},{"h":23.626,"v":27.3},{"h":23.640,"v":22.2},{"h":23.653,"v":13.8},{"h":23.667,"v":10.7},{"h":23.688,"v":13.5},{"h":23.708,"v":16.6},{"h":23.729,"v":19.1},{"h":23.750,"v":20.8},{"h":23.770,"v":22.9},{"h":23.791,"v":25.0},{"h":23.811,"v":26.7},{"h":23.825,"v":28.7},{"h":23.839,"v":26.4},{"h":23.853,"v":22.2},{"h":23.866,"v":15.7},{"h":23.880,"v":7.5},{"h":23.894,"v":22.2}
]},
"layer": [
{"data": {"name": "p50"},
 "mark": {"type": "rule", "strokeWidth": 1},
 "encoding": {
  "y": {"field": "v", "type": "quantitative", "scale": {"domain": [2.77, 56.72], "nice": false, "zero": false}, "axis": null},
  "color": {"datum": "50th percentile", "type": "nominal",
   "scale": {"domain": ["50th percentile", "ntp02.maillink.ch"], "range": ["#9400d3", "#009e73"]},
   "legend": {"orient": "none", "legendX": 1112, "legendY": 7.5, "title": null, "symbolType": "M-3,0H3", "symbolSize": 215, "symbolStrokeWidth": 1, "symbolOpacity": 1, "symbolFillColor": "transparent", "labelAlign": "right", "labelOffset": -39.5, "labelFont": "Liberation Sans", "labelFontSize": 16, "labelColor": "black", "rowPadding": 0, "padding": 0, "labelLimit": 300}}
 }},
{"data": {"name": "jitter"},
 "mark": {"type": "line", "strokeWidth": 1, "clip": true},
 "encoding": {
  "x": {"field": "h", "type": "quantitative", "scale": {"domain": [0, 23.9], "nice": false, "zero": false},
   "axis": {"orient": "bottom", "values": [0,1,2,3,4,5,6,7,8,9,10,11,12,13,14,15,16,17,18,19,20,21,22,23],
    "labelExpr": "datum.value % 2 ? '' : ['21 Jan', (datum.value < 10 ? '0' : '') + datum.value + ':00Z']",
    "labelFont": "Liberation Sans", "labelFontSize": 16, "labelColor": "black", "labelLineHeight": 16, "labelPadding": 11, "labelBaseline": "top", "labelFlush": false, "labelOverlap": false, "labelBound": false,
    "tickColor": "black", "tickSize": {"condition": {"test": "datum.value % 2", "value": -3}, "value": -6},
    "grid": true, "gridColor": "#a0a0a0", "gridDash": [2, 3], "gridOpacity": {"condition": {"test": "datum.value % 2", "value": 0}, "value": 1},
    "domain": false, "title": "Time UTC", "titleFont": "Liberation Sans", "titleFontSize": 16, "titleFontWeight": "normal", "titleColor": "black", "titlePadding": 5}},
  "y": {"field": "v", "type": "quantitative", "scale": {"domain": [2.77, 56.72], "nice": false, "zero": false},
   "axis": {"orient": "left", "values": [10, 20, 30, 40, 50], "labelExpr": "datum.value + ' µs'",
    "labelFont": "Liberation Sans", "labelFontSize": 16, "labelColor": "black", "labelPadding": 15,
    "tickColor": "black", "tickSize": -6, "grid": true, "gridColor": "#a0a0a0", "gridDash": [2, 3],
    "domain": false, "title": null}},
  "color": {"datum": "ntp02.maillink.ch", "type": "nominal"}
 }},
{"data": {"name": "jitter"},
 "mark": {"type": "line", "strokeOpacity": 0},
 "encoding": {
  "x": {"field": "h", "type": "quantitative", "scale": {"domain": [0, 23.9], "nice": false, "zero": false},
   "axis": {"orient": "top", "values": [0,1,2,3,4,5,6,7,8,9,10,11,12,13,14,15,16,17,18,19,20,21,22,23], "labels": false, "grid": false, "domain": false, "title": null,
    "tickColor": "black", "tickSize": {"condition": {"test": "datum.value % 2", "value": -3}, "value": -6}}},
  "y": {"field": "v", "type": "quantitative", "scale": {"domain": [2.77, 56.72], "nice": false, "zero": false},
   "axis": {"orient": "right", "values": [10, 20, 30, 40, 50], "labels": false, "grid": false, "domain": false, "title": null, "tickColor": "black", "tickSize": -6}}
 }}
],
"resolve": {"axis": {"x": "independent", "y": "independent"}}
}
